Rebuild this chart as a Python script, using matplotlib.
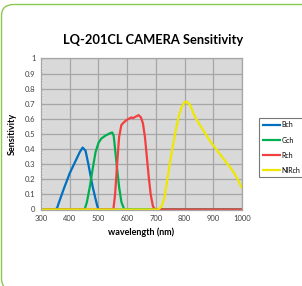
import matplotlib
matplotlib.use('Agg')
import matplotlib.pyplot as plt
from matplotlib.patches import FancyBboxPatch
from matplotlib.ticker import MultipleLocator

plt.rcParams['font.family'] = ['Lato', 'DejaVu Sans']

# spectral sensitivity
b_wl = [300, 350, 356, 365, 380, 400, 420, 435, 445, 455, 465, 480, 495, 500, 1000]
b_val = [0, 0, 0.01, 0.06, 0.14, 0.24, 0.32, 0.38, 0.41, 0.39, 0.30, 0.15, 0.03, 0, 0]

g_wl = [300, 452, 460, 470, 480, 490, 500, 510, 525, 540, 548, 553, 558, 565, 572, 580, 590, 1000]
g_val = [0, 0, 0.05, 0.15, 0.27, 0.38, 0.44, 0.47, 0.49, 0.505, 0.51, 0.49, 0.40, 0.27, 0.15, 0.05, 0, 0]

r_wl = [300, 552, 558, 565, 572, 580, 590, 600, 610, 615, 620, 630, 640, 648, 655, 662,
        668, 675, 682, 690, 697, 1000]
r_val = [0, 0, 0.10, 0.30, 0.48, 0.56, 0.58, 0.595, 0.605, 0.61, 0.605, 0.615, 0.625, 0.61,
         0.57, 0.48, 0.36, 0.22, 0.10, 0.02, 0, 0]

n_wl = [300, 708, 720, 730, 740, 750, 760, 770, 780, 790, 800, 808, 820, 830, 840, 850,
        870, 890, 910, 930, 950, 970, 985, 1000]
n_val = [0, 0, 0.02, 0.08, 0.20, 0.32, 0.43, 0.53, 0.62, 0.68, 0.71, 0.715, 0.69, 0.64,
         0.60, 0.57, 0.51, 0.45, 0.40, 0.35, 0.30, 0.25, 0.20, 0.14]

names = ['Bch', 'Gch', 'Rch', 'NIRch']
colors = ['#0070c0', '#00b050', '#f24040', '#eee800']

fig = plt.figure(figsize=(3.02, 2.86), dpi=100)
fig.patch.set_facecolor('white')

# rounded green frame, cut off on the right and bottom
frame = FancyBboxPatch((1.5 / 302, -4 / 286), 1.2, (286 - 4.5 + 4) / 286,
                       boxstyle='round,pad=0,rounding_size=0.04',
                       transform=fig.transFigure, fill=False,
                       edgecolor='#8cc850', linewidth=1.0)
fig.patches.append(frame)

ax = fig.add_axes([41 / 302, 1 - 209.5 / 286, 201 / 302, 151 / 286])
ax.set_facecolor('#d9d9d9')

for wl, val, c, nm in zip([b_wl, g_wl, r_wl, n_wl], [b_val, g_val, r_val, n_val], colors, names):
    ax.plot(wl, val, color=c, lw=1.6, label=nm, solid_capstyle='butt')

ax.set_xlim(300, 1000)
ax.set_ylim(0, 1)
ax.xaxis.set_major_locator(MultipleLocator(100))
ax.yaxis.set_major_locator(MultipleLocator(0.1))
ax.xaxis.set_minor_locator(MultipleLocator(20))
ax.yaxis.set_minor_locator(MultipleLocator(0.02))
ax.set_yticklabels(['0' if abs(v) < 1e-9 else ('1' if abs(v - 1) < 1e-9 else f'{v:.1f}'.rstrip('0'))
                    for v in ax.get_yticks()])
ax.grid(True, which='major', color='#a6a6a6', lw=0.9)
ax.set_axisbelow(True)
ax.tick_params(which='major', length=0, labelsize=5.5, colors='#404040', pad=4)
ax.tick_params(which='minor', direction='in', length=1.5, color='#f0f0f0', width=0.6)
for s in ax.spines.values():
    s.set_color('#a6a6a6')
    s.set_linewidth(0.9)

fig.text(153.5 / 302, 1 - 40 / 286, 'LQ-201CL CAMERA Sensitivity', fontsize=9.3,
         fontweight='bold', ha='center', va='center')
ax.set_xlabel('wavelength (nm)', fontsize=6.5, fontweight='bold', labelpad=4)
ax.set_ylabel('Sensitivity', fontsize=6.5, fontweight='bold', labelpad=6)

leg = fig.legend(loc='upper left', bbox_to_anchor=(259 / 302, 1 - 118 / 286),
                 fontsize=5, frameon=True, fancybox=False, handlelength=2.6,
                 handletextpad=0.15, labelspacing=1.17, borderpad=0.5, borderaxespad=0)
leg.get_frame().set_edgecolor('#555555')
leg.get_frame().set_linewidth(0.8)

fig.savefig('out.png', dpi=100)
